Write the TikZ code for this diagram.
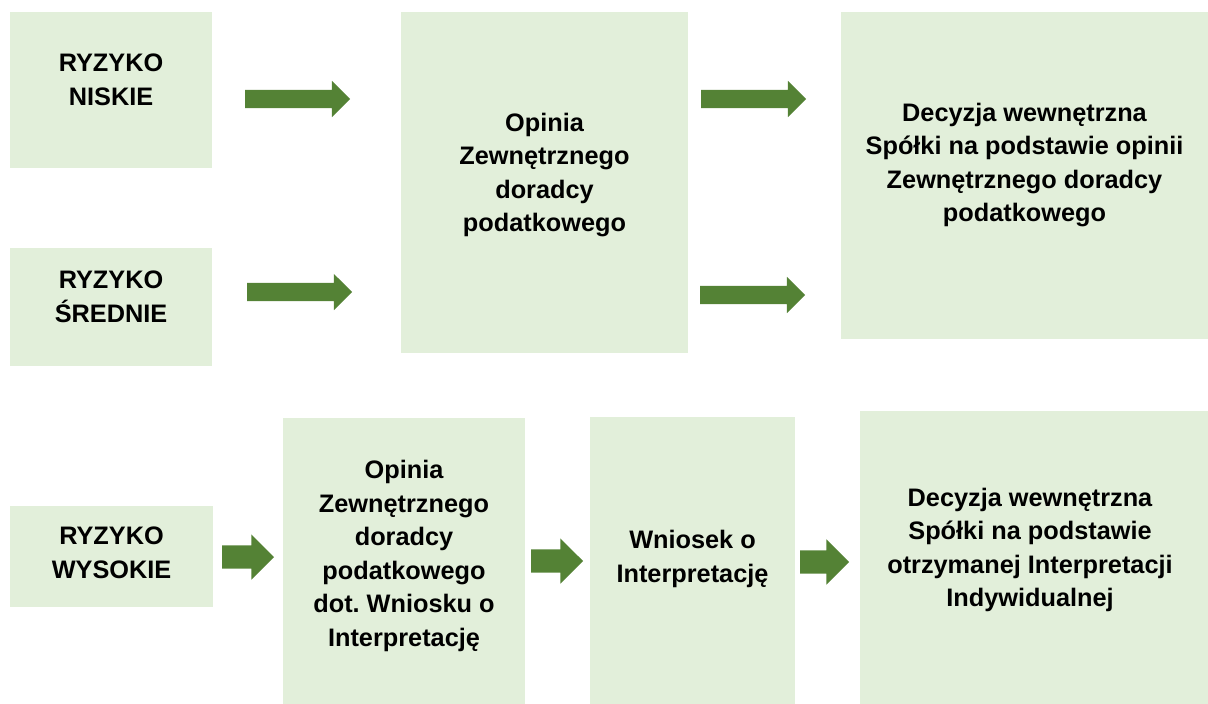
\documentclass[tikz,border=0pt]{standalone}
\usepackage{fontspec}
\setmainfont{Liberation Sans}
\usetikzlibrary{shapes.arrows}
\definecolor{boxgreen}{HTML}{E2EFDA}
\definecolor{arrgreen}{HTML}{548235}
\frenchspacing
\begin{document}
\begin{tikzpicture}[x=1pt,y=-1pt,
  box/.style={fill=boxgreen, draw=none, inner sep=0pt, outer sep=0pt},
  txt/.style={align=center, font=\fontsize{25.3}{33.6}\selectfont\bfseries, inner sep=0pt},
  blockarrow/.style={single arrow, fill=arrgreen, draw=none, anchor=tail, inner xsep=0pt, outer sep=0pt},
  bigarrow/.style={blockarrow, inner ysep=9pt, minimum height=105pt, minimum width=36pt, single arrow head extend=9pt},
  smallarrow/.style={blockarrow, inner ysep=11.5pt, minimum height=52pt, minimum width=45pt, single arrow head extend=11pt}
]
\useasboundingbox (0,0) rectangle (1208,704);

% boxes
\node[box, minimum width=202pt, minimum height=156pt] (b1) at (111,90) {};
\node[box, minimum width=202pt, minimum height=118pt] (b2) at (111,307) {};
\node[box, minimum width=287pt, minimum height=341pt] (b3) at (544.5,182.5) {};
\node[box, minimum width=367pt, minimum height=327pt] (b4) at (1024.5,175.5) {};
\node[box, minimum width=203pt, minimum height=101pt] (b5) at (111.5,556.5) {};
\node[box, minimum width=242pt, minimum height=286pt] (b6) at (404,561) {};
\node[box, minimum width=205pt, minimum height=287pt] (b7) at (692.5,560.5) {};
\node[box, minimum width=348pt, minimum height=293pt] (b8) at (1034,557.5) {};

% texts
\node[txt] (t1) at (111,80) {RYZYKO\\NISKIE};
\node[txt] (t2) at (111,296.5) {RYZYKO\\ŚREDNIE};
\node[txt] (t3) at (544.5,175) {Opinia\\Zewnętrznego\\doradcy\\podatkowego};
\node[txt] (t4) at (1024.5,165) {Decyzja wewnętrzna\\Spółki na podstawie opinii\\Zewnętrznego doradcy\\podatkowego};
\node[txt] (t5) at (111.5,553) {RYZYKO\\WYSOKIE};
\node[txt] (t6) at (404,556) {Opinia\\Zewnętrznego\\doradcy\\podatkowego\\dot. Wniosku o\\Interpretację};
\node[txt] (t7) at (692.5,559) {Wniosek o\\Interpretację};
\node[txt] (t8) at (1030,550) {Decyzja wewnętrzna\\Spółki na podstawie\\otrzymanej Interpretacji\\Indywidualnej};

% arrows
\node[bigarrow] (a1) at (245,99) {};
\node[bigarrow] (a2) at (247,292) {};
\node[bigarrow] (a3) at (701,99) {};
\node[bigarrow] (a4) at (700,295) {};
\node[smallarrow] (a5) at (222,557) {};
\node[smallarrow] (a6) at (531,561) {};
\node[smallarrow, minimum height=49pt] (a7) at (800,562) {};
\end{tikzpicture}
\end{document}
